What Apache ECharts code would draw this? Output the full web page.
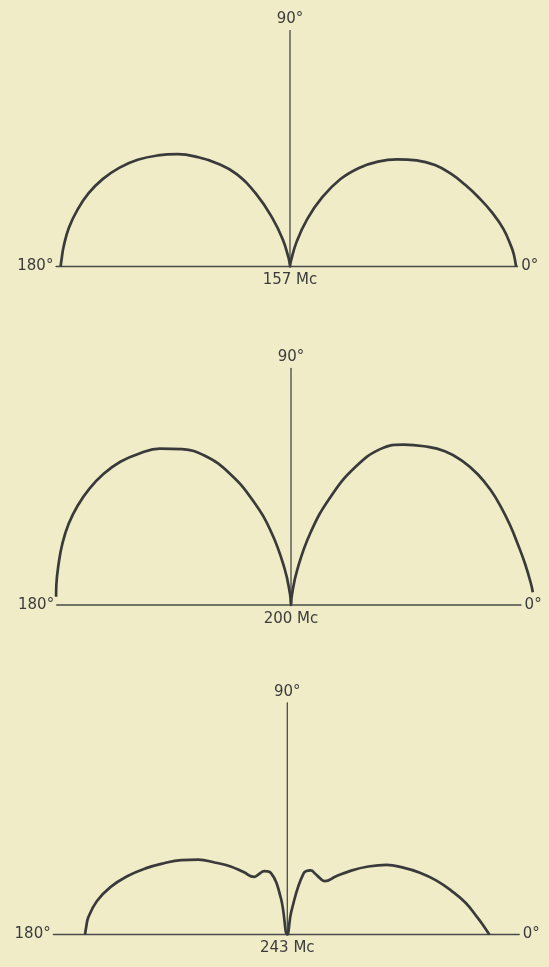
<!DOCTYPE html>
<html>
<head>
<meta charset="utf-8">
<script src="https://cdn.jsdelivr.net/npm/echarts@6/dist/echarts.min.js"></script>
</head>
<body style="margin:0;background:#f0ecc8">
<div id="main" style="width:549px;height:967px"></div>
<script>
// elevation angle (deg) and relative field strength
var angles = [0, 3, 5, 10, 15, 20, 25, 30, 35, 40, 45, 50, 55, 60, 65, 70, 75, 80, 85, 90,
              95, 100, 105, 110, 115, 120, 125, 130, 135, 140, 145, 150, 155, 160, 165, 170, 175, 178, 180];
var r157 = [95.8, 95.0, 94.2, 91.8, 88.6, 85.2, 81.9, 78.7, 75.0, 70.0, 64.2, 58.0, 51.0, 42.8, 32.4, 21.5, 10.8, 2.5, 0.5, 0,
            0.8, 4.0, 11.8, 21.8, 33.8, 45.2, 53.2, 60.4, 67.3, 73.2, 78.8, 83.6, 87.6, 90.8, 93.2, 95.1, 96.3, 96.8, 97.2];
var r200 = [null, 102.6, 102.1, 100.7, 99.5, 98.8, 98.2, 97.6, 96.6, 94.9, 92.2, 87.8, 83.0, 76.5, 64.5, 48.5, 31.5, 15.0, 4.0, 0,
            4.5, 15.5, 31.5, 47.0, 61.5, 73.0, 80.6, 86.5, 90.8, 94.4, 96.9, 98.6, 99.7, 100.3, 100.3, 100.0, 99.8, 99.6, null];
var r243 = [85.6, 82.8, 81.0, 76.8, 71.9, 67.1, 62.0, 56.7, 51.4, 44.8, 38.3, 32.2, 27.6, 27.6, 28.3, 28.9, 26.9, 10.2, 0, 0,
            0, 15.6, 27.0, 28.6, 28.3, 28.2, 32.3, 37.8, 43.0, 49.3, 54.9, 60.4, 66.3, 72.2, 77.6, 81.9, 84.6, 85.3, 85.7];
var freqLabels = ['157 Mc', '200 Mc', '243 Mc'];
var patterns = [r157, r200, r243];
// reference line lengths: 180 deg side, 0 deg side, 90 deg
var baseLeft = [99.2, 99.3, 99.2];
var baseRight = [96.5, 97.5, 98.3];
var vertLen = [100, 100.3, 98.2];

var centers = [[290, 266.5], [291, 605], [287.3, 934.5]];
var ink = '#3a3a3a';
var font = {fontFamily: 'DejaVu Sans', fontSize: 15, color: '#3c3c3c'};

var chart = echarts.init(document.getElementById('main'), null, {renderer: 'canvas'});

var polar = [], angleAxis = [], radiusAxis = [], series = [];
for (var i = 0; i < 3; i++) {
    polar.push({center: centers[i], radius: 259.6});
    angleAxis.push({polarIndex: i, type: 'value', min: 0, max: 360, startAngle: 0, clockwise: false, show: false});
    radiusAxis.push({polarIndex: i, type: 'value', min: 0, max: 110, show: false});

    // horizon line 180 -> origin -> 0
    series.push({
        type: 'line', coordinateSystem: 'polar', polarIndex: i, silent: true, clip: false,
        symbol: 'circle', symbolSize: 1, itemStyle: {color: ink},
        lineStyle: {color: '#4a4a4a', width: 1.3}, z: 1,
        data: [
            {value: [baseLeft[i], 180], label: Object.assign({show: true, position: 'left', distance: 2, formatter: '180°'}, font)},
            {value: [0, 90], label: Object.assign({show: true, position: 'bottom', distance: 6, formatter: freqLabels[i]}, font)},
            {value: [baseRight[i], 0], label: Object.assign({show: true, position: 'right', distance: 3, formatter: '0°'}, font)}
        ]
    });
    // zenith line
    series.push({
        type: 'line', coordinateSystem: 'polar', polarIndex: i, silent: true, clip: false,
        symbol: 'circle', symbolSize: 1, itemStyle: {color: ink},
        lineStyle: {color: '#4a4a4a', width: 1.3}, z: 1,
        data: [
            [0, 90],
            {value: [vertLen[i], 90], label: Object.assign({show: true, position: 'top', distance: 3, formatter: '90°'}, font)}
        ]
    });
    // pattern
    series.push({
        type: 'line', coordinateSystem: 'polar', polarIndex: i, silent: true, clip: false,
        showSymbol: false, smooth: 0.45, z: 2,
        lineStyle: {color: ink, width: 2.7},
        data: angles.map(function (a, k) { return [patterns[i][k], a]; })
    });
}

chart.setOption({
    backgroundColor: '#f0ecc8',
    animation: false,
    polar: polar,
    angleAxis: angleAxis,
    radiusAxis: radiusAxis,
    series: series
});
</script>
</body>
</html>
